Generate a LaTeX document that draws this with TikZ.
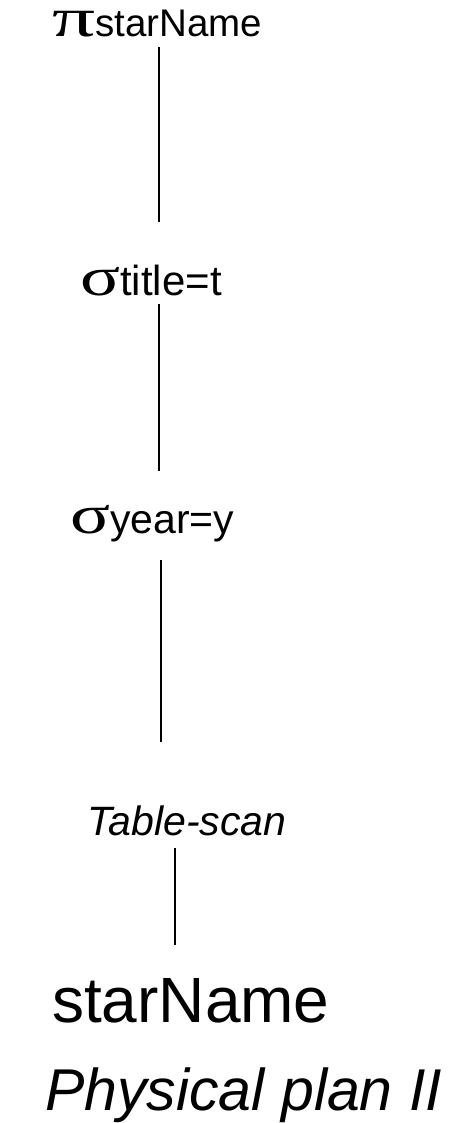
\documentclass[tikz,border=0pt]{standalone}
\usepackage{fontspec}
\setmainfont{Liberation Sans}
\newfontfamily\greekfont{Liberation Serif}
\usetikzlibrary{positioning}

\newcommand{\opsym}[1]{{\greekfont\fontsize{55}{55}\selectfont\scalebox{1.35}[1]{#1}}}

\begin{document}
\begin{tikzpicture}[
    x = 1pt, y = -1pt, %
    link/.style = {line width = 2pt}, %
    op/.style = {anchor = base west, inner sep = 0pt}
    ]

    \useasboundingbox (0,0) rectangle (465,1123);

    \node[op, font=\fontsize{38.5}{44}\selectfont] (proj)  at (52,37)
        {\scalebox{1.15}[1]{\opsym{π}}starName};
    \node[op, font=\fontsize{42}{48}\selectfont] (selt)  at (80,295)
        {\opsym{σ}title=t};
    \node[op, font=\fontsize{41}{46}\selectfont] (sely)  at (70,533)
        {\opsym{σ}year=y};
    \node[op, font=\fontsize{41}{47}\selectfont\itshape] (scan) at (87,835) {Table-scan};
    \node[op, font=\fontsize{64}{70}\selectfont] (rel)   at (52,1022) {starName};
    \node[op, font=\fontsize{59}{64}\selectfont\itshape] (title) at (45,1110) {Physical plan II};

    \draw[link, shorten <= 9pt, shorten >= 42pt] ([xshift=2pt]proj.south) -- ([xshift=2pt]proj.south |- selt.north);
    \draw[link, shorten <= 8pt, shorten >= 34pt] ([xshift=2pt]proj.south |- selt.south) -- ([xshift=2pt]proj.south |- sely.north);
    \draw[link, shorten <= 18pt, shorten >= 63pt] ([xshift=4pt]proj.south |- sely.south) -- ([xshift=4pt]proj.south |- scan.north);
    \draw[link, shorten <= 12pt, shorten >= 33pt] ([xshift=-12pt]scan.south) -- ([xshift=-12pt]scan.south |- rel.north);

\end{tikzpicture}
\end{document}
